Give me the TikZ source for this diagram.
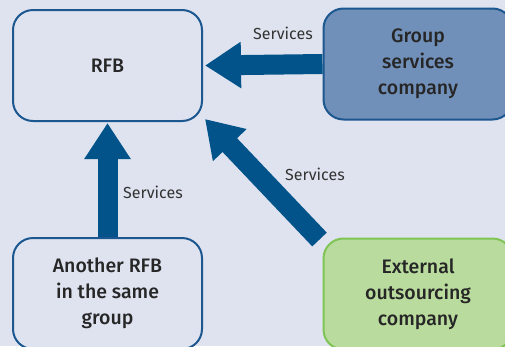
\documentclass[tikz,border=0pt]{standalone}
\usepackage{fontspec}
\setmainfont{Fira Sans}
\newfontfamily\boxfont{Fira Sans Medium}
\usetikzlibrary{arrows.meta,calc}
\definecolor{bgcol}{HTML}{DEE3EF}
\definecolor{navy}{HTML}{02538A}
\definecolor{edgeblue}{HTML}{1D5790}
\definecolor{grpfill}{HTML}{7090B9}
\definecolor{extfill}{HTML}{B9DB9D}
\definecolor{extedge}{HTML}{80C455}
\begin{document}
\begin{tikzpicture}[x=1pt, y=-1pt,
  box/.style={rectangle, rounded corners=20pt, line width=2pt, draw=edgeblue, fill=bgcol,
    minimum width=189pt, minimum height=111pt, align=center, text=black!85,
    font=\boxfont\fontsize{19.5}{26}\selectfont},
  lbl/.style={font=\fontsize{16}{18}\selectfont, text=black!80, inner sep=0pt},
  flow/.style={navy, line width=20pt, -{Triangle[width=44pt,length=36pt]}}]
\fill[bgcol] (0,0) rectangle (505,346);
\clip (0,0) rectangle (505,346);
% boxes
\node [box] (rfb) at (107.5,65.5) {RFB};
\node [box, fill=grpfill] (grp) at (418,64) {Group\\services\\company};
\node [box] (sib) at (107.5,293.5) {Another RFB\\in the same\\group};
\node [box, fill=extfill, draw=extedge] (ext) at (418,294) {External\\outsourcing\\company};
% arrows
\draw [flow] (grp.west) -- ($(rfb.east)+(2,0)$);
\draw [flow] (sib.north) -- ($(rfb.south)+(0,1)$);
\draw [flow] ($(ext.north west)+(-3,2)$) -- ($(rfb.south east)+(2,-3)$);
% labels
\node [lbl] (s1) at (283,33) {Services};
\node [lbl] (s2) at (153,192) {Services};
\node [lbl] (s3) at (315,174) {Services};
\end{tikzpicture}
\end{document}
